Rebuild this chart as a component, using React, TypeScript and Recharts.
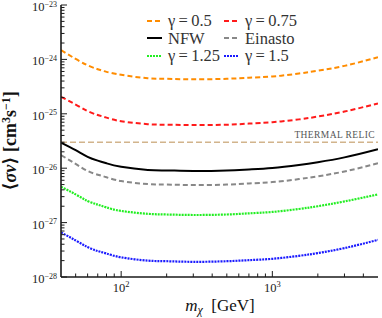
import { LineChart, Line, XAxis, YAxis, ReferenceLine, Legend } from "recharts";

const FONT = "'Liberation Serif', 'DejaVu Serif', serif";
const AXIS = "#1a1a1a";

const ORANGE = "#ff8c00";
const RED = "#ff1a1a";
const BLACK = "#000000";
const GRAY = "#888888";
const GREEN = "#22ee22";
const BLUE = "#1a1aff";
const TAN = "#d2b48c";

// dark matter mass [GeV]
const MASS = [40, 50, 60, 70, 80, 100, 150, 200, 300, 500, 700, 1000, 1500, 2000, 3000, 5000];

// <sigma v> upper limits [cm^3 s^-1]
const GAMMA_05 = [1.48e-24, 1.02e-24, 7.8e-25, 6.6e-25, 5.9e-25, 5.2e-25, 4.5e-25, 4.4e-25, 4.3e-25, 4.4e-25, 4.6e-25, 4.85e-25, 5.5e-25, 6.2e-25, 7.6e-25, 1.1e-24];
const GAMMA_075 = [2.05e-25, 1.48e-25, 1.12e-25, 9.5e-26, 8.5e-26, 7.3e-26, 6.45e-26, 6.3e-26, 6.2e-26, 6.3e-26, 6.6e-26, 7.0e-26, 7.9e-26, 8.9e-26, 1.1e-25, 1.55e-25];
const NFW = [2.95e-26, 2.14e-26, 1.62e-26, 1.38e-26, 1.23e-26, 1.06e-26, 9.3e-27, 9.1e-27, 8.9e-27, 9.1e-27, 9.5e-27, 1.01e-26, 1.15e-26, 1.29e-26, 1.58e-26, 2.24e-26];
const EINASTO = [1.74e-26, 1.2e-26, 8.9e-27, 7.6e-27, 6.8e-27, 5.8e-27, 5.1e-27, 5.0e-27, 4.9e-27, 5.0e-27, 5.25e-27, 5.55e-27, 6.3e-27, 7.1e-27, 8.7e-27, 1.23e-26];
const GAMMA_125 = [4.57e-27, 3.3e-27, 2.5e-27, 2.14e-27, 1.9e-27, 1.64e-27, 1.45e-27, 1.41e-27, 1.38e-27, 1.41e-27, 1.48e-27, 1.57e-27, 1.78e-27, 2.0e-27, 2.45e-27, 3.3e-27];
const GAMMA_15 = [6.6e-28, 4.7e-28, 3.55e-28, 3.0e-28, 2.7e-28, 2.3e-28, 2.0e-28, 1.95e-28, 1.9e-28, 1.95e-28, 2.04e-28, 2.16e-28, 2.45e-28, 2.75e-28, 3.4e-28, 4.8e-28];

const THERMAL_RELIC = 3e-26;

const X_TICKS = [50, 60, 70, 80, 90, 100, 200, 300, 400, 500, 600, 700, 800, 900, 1000, 2000, 3000, 4000];
const Y_DECADES = [1e-28, 1e-27, 1e-26, 1e-25, 1e-24, 1e-23];
const Y_TICKS = Y_DECADES.flatMap((d, i) =>
  i === Y_DECADES.length - 1 ? [d] : [1, 2, 3, 4, 5, 6, 7, 8, 9].map((k) => k * d)
);

const data = MASS.map((m, i) => ({
  m,
  g05: GAMMA_05[i],
  g075: GAMMA_075[i],
  nfw: NFW[i],
  ein: EINASTO[i],
  g125: GAMMA_125[i],
  g15: GAMMA_15[i],
}));

const LEGEND = [
  { name: "γ\u2009=\u20090.5", color: ORANGE, dash: "5 3", width: 2 },
  { name: "γ\u2009=\u20090.75", color: RED, dash: "5 3", width: 2 },
  { name: "NFW", color: BLACK, dash: undefined, width: 2 },
  { name: "Einasto", color: GRAY, dash: "5 3", width: 2 },
  { name: "γ\u2009=\u20091.25", color: GREEN, dash: "2 1", width: 2.2 },
  { name: "γ\u2009=\u20091.5", color: BLUE, dash: "2 1", width: 2.2 },
];

function splitTick(v: number) {
  const exp = Math.round(Math.log10(v));
  const major = Math.abs(v / Math.pow(10, exp) - 1) < 1e-6;
  return { exp, major };
}

function LeftTick(props: any) {
  const { x, y, payload } = props;
  const { exp, major } = splitTick(payload.value);
  return (
    <g>
      <line x1={x} x2={x + (major ? 6 : 3.5)} y1={y} y2={y} stroke={AXIS} strokeWidth={1} />
      {major && (
        <text x={x - 4} y={y + 6} textAnchor="end" fontFamily={FONT} fontSize={12.5} fill="#222">
          10
          <tspan dy={-4.5} fontSize={8}>{"−" + Math.abs(exp)}</tspan>
        </text>
      )}
    </g>
  );
}

function RightTick(props: any) {
  const { x, y, payload } = props;
  const { major } = splitTick(payload.value);
  return <line x1={x} x2={x - (major ? 6 : 3.5)} y1={y} y2={y} stroke={AXIS} strokeWidth={1} />;
}

function BottomTick(props: any) {
  const { x, y, payload } = props;
  const { exp, major } = splitTick(payload.value);
  return (
    <g>
      <line x1={x} x2={x} y1={y} y2={y - (major ? 6 : 3.5)} stroke={AXIS} strokeWidth={1} />
      {major && (
        <text x={x} y={y + 15} textAnchor="middle" fontFamily={FONT} fontSize={12.5} fill="#222">
          10
          <tspan dy={-5} fontSize={8.5}>{exp}</tspan>
        </text>
      )}
    </g>
  );
}

function TopTick(props: any) {
  const { x, y, payload } = props;
  const { major } = splitTick(payload.value);
  return <line x1={x} x2={x} y1={y} y2={y + (major ? 6 : 3.5)} stroke={AXIS} strokeWidth={1} />;
}

function YLabel() {
  return (
    <text
      x={16}
      y={141}
      transform="rotate(-90 16 141)"
      textAnchor="middle"
      fontFamily={FONT}
      fontSize={18}
      fontWeight={600}
      fill="#111"
    >
      ⟨<tspan fontStyle="italic">σv</tspan>⟩ [cm
      <tspan dy={-6} fontSize={12}>3</tspan>
      <tspan dy={6}>s</tspan>
      <tspan dy={-6} fontSize={12}>−1</tspan>
      <tspan dy={6}>]</tspan>
    </text>
  );
}

function XLabel() {
  return (
    <text x={220} y={311} textAnchor="middle" fontFamily={FONT} fontSize={17} fill="#111">
      <tspan fontStyle="italic">m</tspan>
      <tspan dy={3} fontSize={12} fontStyle="italic">χ</tspan>
      <tspan dy={-3}>{"\u00a0\u00a0[GeV]"}</tspan>
    </text>
  );
}

function RelicLabel(props: any) {
  const vb = props.viewBox || {};
  return (
    <text
      x={(vb.x ?? 0) + (vb.width ?? 0) - 3}
      y={(vb.y ?? 0) - 4}
      textAnchor="end"
      fontFamily={FONT}
      fontSize={9.5}
      letterSpacing={0.4}
      fill="#555"
    >
      THERMAL RELIC
    </text>
  );
}

function LegendBox() {
  return (
    <div
      style={{
        display: "grid",
        gridTemplateColumns: "77px 77px",
        fontFamily: FONT,
        fontSize: 16.5,
        color: "#333",
        lineHeight: "17.5px",
      }}
    >
      {LEGEND.map((it) => (
        <div key={it.name} style={{ display: "flex", alignItems: "center", whiteSpace: "nowrap" }}>
          <svg width={15} height={6} style={{ marginRight: 6, flexShrink: 0 }}>
            <line
              x1={0}
              x2={15}
              y1={3}
              y2={3}
              stroke={it.color}
              strokeWidth={it.width}
              strokeDasharray={it.dash}
            />
          </svg>
          <span>{it.name}</span>
        </div>
      ))}
    </div>
  );
}

export default function App() {
  return (
    <div style={{ position: "absolute", left: 0, top: 0, width: 382, height: 318, background: "#fff" }}>
      <LineChart width={382} height={318} data={data} margin={{ top: 5, right: 4, bottom: 0, left: 0 }}>
        <XAxis
          xAxisId="bottom"
          dataKey="m"
          type="number"
          scale="log"
          domain={[40, 5000]}
          allowDataOverflow
          ticks={X_TICKS}
          interval={0}
          height={41}
          tickSize={0}
          tickMargin={0}
          tickLine={false}
          tick={<BottomTick />}
          axisLine={{ stroke: AXIS, strokeWidth: 1.6 }}
          label={<XLabel />}
        />
        <XAxis
          xAxisId="top"
          orientation="top"
          dataKey="m"
          type="number"
          scale="log"
          domain={[40, 5000]}
          allowDataOverflow
          ticks={X_TICKS}
          interval={0}
          height={0}
          tickSize={0}
          tickMargin={0}
          tickLine={false}
          tick={<TopTick />}
          axisLine={{ stroke: AXIS, strokeWidth: 1.6 }}
        />
        <YAxis
          yAxisId="left"
          type="number"
          scale="log"
          domain={[1e-28, 1e-23]}
          allowDataOverflow
          ticks={Y_TICKS}
          interval={0}
          width={61}
          tickSize={0}
          tickMargin={0}
          tickLine={false}
          tick={<LeftTick />}
          axisLine={{ stroke: AXIS, strokeWidth: 1.6 }}
          label={<YLabel />}
        />
        <YAxis
          yAxisId="right"
          orientation="right"
          type="number"
          scale="log"
          domain={[1e-28, 1e-23]}
          allowDataOverflow
          ticks={Y_TICKS}
          interval={0}
          width={0}
          tickSize={0}
          tickMargin={0}
          tickLine={false}
          tick={<RightTick />}
          axisLine={{ stroke: AXIS, strokeWidth: 1.6 }}
        />
        <ReferenceLine
          xAxisId="bottom"
          yAxisId="left"
          y={THERMAL_RELIC}
          stroke={TAN}
          strokeWidth={1.3}
          strokeDasharray="6 3"
          label={<RelicLabel />}
        />
        <Line xAxisId="bottom" yAxisId="left" type="natural" dataKey="g05" stroke={ORANGE} strokeWidth={2} strokeDasharray="5 3" dot={false} isAnimationActive={false} />
        <Line xAxisId="bottom" yAxisId="left" type="natural" dataKey="g075" stroke={RED} strokeWidth={2} strokeDasharray="5 3" dot={false} isAnimationActive={false} />
        <Line xAxisId="bottom" yAxisId="left" type="natural" dataKey="nfw" stroke={BLACK} strokeWidth={2} dot={false} isAnimationActive={false} />
        <Line xAxisId="bottom" yAxisId="left" type="natural" dataKey="ein" stroke={GRAY} strokeWidth={2} strokeDasharray="5 3" dot={false} isAnimationActive={false} />
        <Line xAxisId="bottom" yAxisId="left" type="natural" dataKey="g125" stroke={GREEN} strokeWidth={2.2} strokeDasharray="2 1" dot={false} isAnimationActive={false} />
        <Line xAxisId="bottom" yAxisId="left" type="natural" dataKey="g15" stroke={BLUE} strokeWidth={2.2} strokeDasharray="2 1" dot={false} isAnimationActive={false} />
        <Legend
          layout="vertical"
          align="center"
          verticalAlign="middle"
          content={() => <LegendBox />}
          wrapperStyle={{ left: 147, top: 12, width: 160 }}
        />
      </LineChart>
    </div>
  );
}
